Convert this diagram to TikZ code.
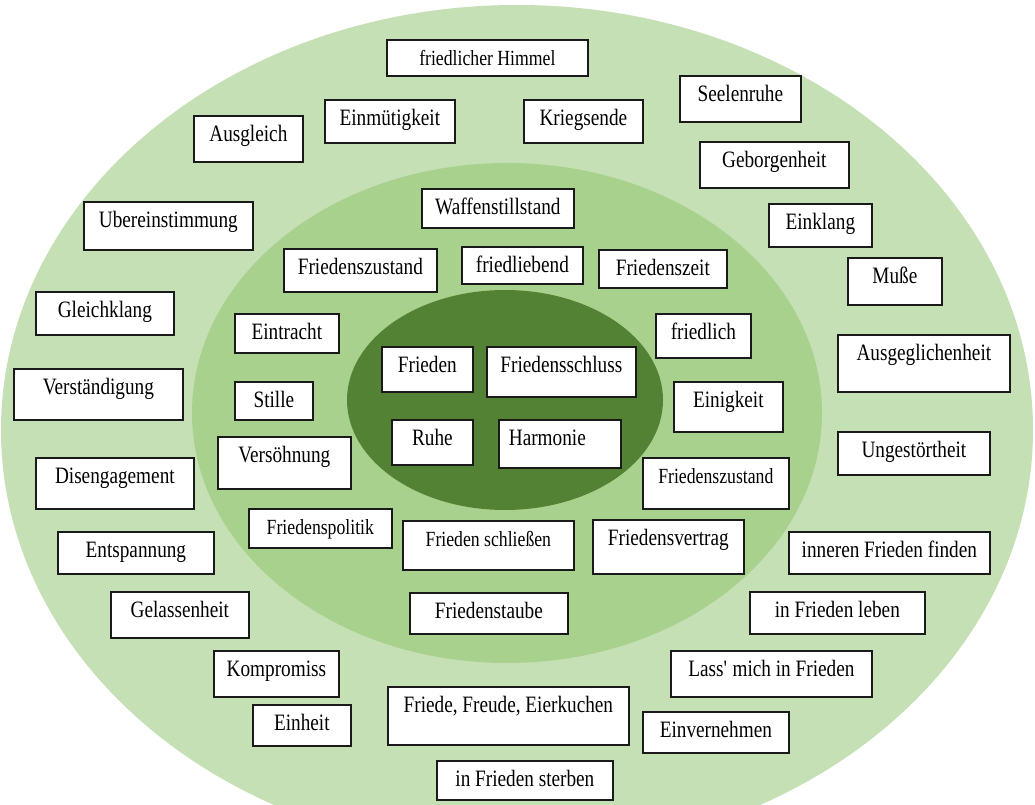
\documentclass[tikz,border=0pt]{standalone}
\usepackage{fontspec}
\setmainfont{Liberation Serif}[FakeStretch=0.82]
\usepackage{tikz}

\newcommand{\normalwort}{\fontsize{17.6}{20}\selectfont}
\newcommand{\kleinwort}{\fontsize{16.2}{18}\selectfont}
\definecolor{ringaussen}{HTML}{C5E0B4}
\definecolor{ringmitte}{HTML}{A9D18E}
\definecolor{ringinnen}{HTML}{548235}
\definecolor{rahmen}{HTML}{1A1A1A}

\begin{document}
\begin{tikzpicture}[x=0.75pt, y=-0.75pt,
	wort/.style={draw=rahmen, fill=white, line width=1.3pt, inner sep=0pt,
		text height=19.5pt, text=black, font=\normalwort},
	klein/.style={font=\kleinwort},
	kasten/.style n args={4}{at={(#1,#2)}, anchor=north west,
		minimum width={(#3-#1)*0.75pt}, text depth={(#4-#2-26)*0.75pt}}]
	\fill[white] (0,0) rectangle (1035,805);
	\useasboundingbox (0,0) rectangle (1035,805);
	\clip (0,0) rectangle (1035,805);
	\fill[ringaussen] (517,430) ellipse [x radius=387pt, y radius=318.75pt];
	\fill[ringmitte] (507,413) ellipse [x radius=236.25pt, y radius=187.5pt];
	\fill[ringinnen] (505,400) ellipse [x radius=118.5pt, y radius=82.5pt];

	\node [wort,klein,kasten={386}{39}{587}{75}] (himmel) {friedlicher Himmel};
	\node [wort,kasten={193}{115}{302}{161}] (ausgleich) {Ausgleich};
	\node [wort,kasten={324}{99}{454}{142}] (einmuetigkeit) {Einmütigkeit};
	\node [wort,kasten={523}{99}{642}{142}] (kriegsende) {Kriegsende};
	\node [wort,kasten={679}{75}{800}{121}] (seelenruhe) {Seelenruhe};
	\node [wort,kasten={699}{141}{848}{187}] (geborgenheit) {Geborgenheit};
	\node [wort,kasten={83}{201}{252}{249}] (uebereinstimmung) {Ubereinstimmung};
	\node [wort,kasten={768}{203}{871}{246}] (einklang) {Einklang};
	\node [wort,kasten={847}{257}{941}{304}] (musse) {Muße};
	\node [wort,kasten={35}{291}{173}{334}] (gleichklang) {Gleichklang};
	\node [wort,kasten={837}{334}{1009}{391}] (ausgeglichenheit) {Ausgeglichenheit};
	\node [wort,kasten={13}{368}{182}{419}] (verstaendigung) {Verständigung};
	\node [wort,kasten={837}{431}{989}{474}] (ungestoertheit) {Ungestörtheit};
	\node [wort,kasten={35}{457}{193}{508}] (disengagement) {Disengagement};
	\node [wort,kasten={57}{531}{213}{573}] (entspannung) {Entspannung};
	\node [wort,kasten={788}{531}{989}{573}] (innerer) {inneren Frieden finden};
	\node [wort,kasten={110}{591}{248}{637}] (gelassenheit) {Gelassenheit};
	\node [wort,kasten={749}{591}{924}{633}] (leben) {in Frieden leben};
	\node [wort,kasten={213}{650}{338}{696}] (kompromiss) {Kompromiss};
	\node [wort,kasten={670}{650}{871}{696}] (lassmich) {Lass\textquotesingle{} mich in Frieden};
	\node [wort,kasten={252}{704}{350}{745}] (einheit) {Einheit};
	\node [wort,kasten={387}{686}{628}{744}] (eierkuchen) {Friede, Freude, Eierkuchen};
	\node [wort,kasten={642}{711}{788}{752}] (einvernehmen) {Einvernehmen};
	\node [wort,kasten={436}{760}{612}{799}] (sterben) {in Frieden sterben};

	\node [wort,kasten={421}{188}{573}{227}] (waffenstillstand) {Waffenstillstand};
	\node [wort,kasten={283}{248}{436}{291}] (zustandlinks) {Friedenszustand};
	\node [wort,kasten={461}{246}{582}{283}] (friedliebend) {friedliebend};
	\node [wort,kasten={598}{249}{726}{287}] (friedenszeit) {Friedenszeit};
	\node [wort,kasten={234}{313}{338}{352}] (eintracht) {Eintracht};
	\node [wort,kasten={655}{313}{750}{357}] (friedlich) {friedlich};
	\node [wort,kasten={234}{381}{312}{419}] (stille) {Stille};
	\node [wort,kasten={673}{381}{782}{431}] (einigkeit) {Einigkeit};
	\node [wort,kasten={217}{436}{350}{488}] (versoehnung) {Versöhnung};
	\node [wort,klein,kasten={642}{457}{788}{508}] (zustandrechts) {Friedenszustand};
	\node [wort,klein,kasten={248}{508}{391}{547}] (friedenspolitik) {Friedenspolitik};
	\node [wort,klein,kasten={402}{520}{573}{569}] (schliessen) {Frieden schließen};
	\node [wort,kasten={592}{519}{743}{573}] (friedensvertrag) {Friedensvertrag};
	\node [wort,kasten={409}{592}{567}{633}] (friedenstaube) {Friedenstaube};

	\node [wort,kasten={381}{346}{472}{391}] (frieden) {Frieden};
	\node [wort,kasten={486}{346}{635}{396}] (friedensschluss) {Friedensschluss};
	\node [wort,kasten={391}{419}{472}{464}] (ruhe) {Ruhe};
	\node [wort,kasten={498}{419}{620}{467},text width=76.5pt,align=left] (harmonie) {Harmonie};
\end{tikzpicture}
\end{document}
